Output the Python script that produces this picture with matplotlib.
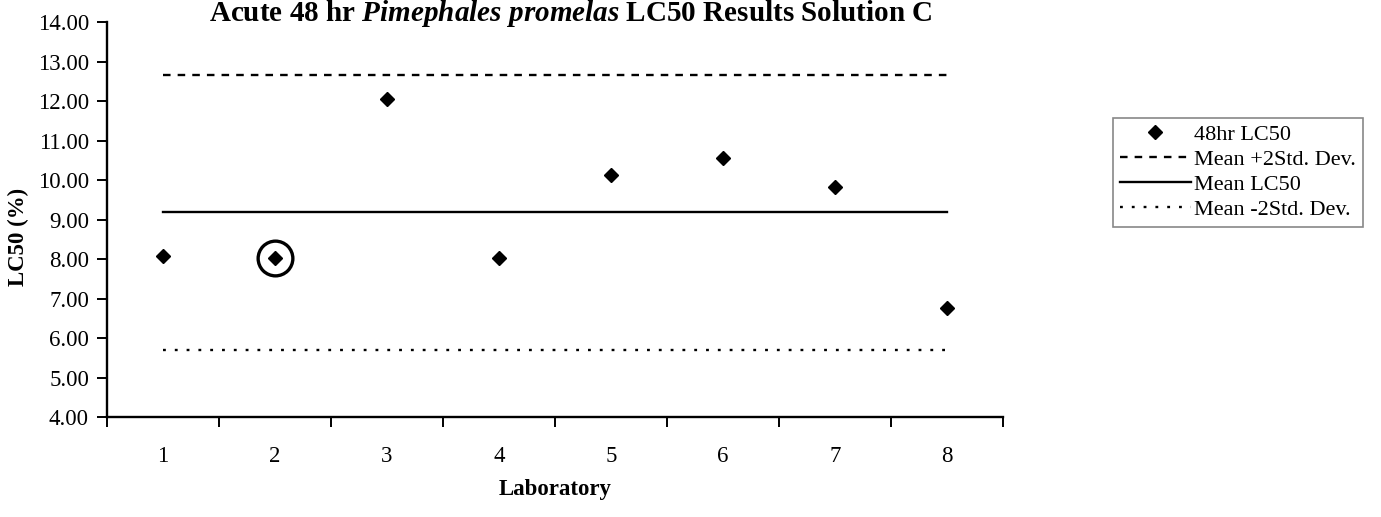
import numpy as np
import matplotlib
matplotlib.use('Agg')
import matplotlib.pyplot as plt

plt.rcParams['font.family'] = ['Liberation Serif', 'DejaVu Serif']
plt.rcParams['mathtext.fontset'] = 'custom'
plt.rcParams['mathtext.rm'] = 'Liberation Serif:bold'
plt.rcParams['mathtext.it'] = 'Liberation Serif:italic:bold'

# data
labs = [1, 2, 3, 4, 5, 6, 7, 8]
lc50 = [8.09, 8.04, 12.05, 8.04, 10.13, 10.57, 9.83, 6.76]
mean_lc50 = 9.19
mean_plus_2sd = 12.67
mean_minus_2sd = 5.69
flagged_lab = 2

y_ticks = np.arange(4, 14.01, 1.0)


def make_plot():
    fig = plt.figure(figsize=(13.81, 5.17), dpi=100)
    ax = fig.add_axes([0.0775, 0.193, 0.6488, 0.764])

    x = np.array(labs)
    ax.plot(x, lc50, linestyle='none', marker='D', markersize=6.8,
            color='black', label='48hr LC50')
    ax.plot(x, np.full(len(x), mean_plus_2sd), color='black', lw=1.7,
            linestyle=(0, (3.2, 3.0)), label='Mean +2Std. Dev.')
    ax.plot(x, np.full(len(x), mean_lc50), color='black', lw=1.7,
            linestyle='-', label='Mean LC50')
    ax.plot(x, np.full(len(x), mean_minus_2sd), color='black', lw=1.7,
            linestyle=(0, (1.2, 3.8)), label='Mean -2Std. Dev.')

    # hand drawn circle round the flagged lab
    i = labs.index(flagged_lab)
    ax.plot([labs[i]], [lc50[i]], linestyle='none', marker='o',
            markersize=25, markerfacecolor='none', markeredgecolor='black',
            markeredgewidth=2.4)

    ax.set_xlim(0.5, 8.5)
    ax.set_ylim(4, 14)
    ax.set_yticks(y_ticks)
    ax.set_yticklabels(['%.2f' % v for v in y_ticks])
    ax.set_xticks(np.arange(0.5, 8.6, 1.0))
    ax.set_xticklabels([])
    ax.set_xticks(x, minor=True)
    ax.set_xticklabels([str(v) for v in labs], minor=True)

    ax.tick_params(axis='y', which='major', direction='out', length=7,
                   width=1.4, labelsize=16.5, pad=6)
    ax.tick_params(axis='x', which='major', direction='out', length=7,
                   width=1.4)
    ax.tick_params(axis='x', which='minor', length=0, labelsize=16.5, pad=21)

    for s in ['top', 'right']:
        ax.spines[s].set_visible(False)
    for s in ['left', 'bottom']:
        ax.spines[s].set_linewidth(1.7)

    fig.text(0.4135, 1 - 21 / 517.0,
             'Acute 48 hr $\\mathit{Pimephales\\ promelas}$ LC50 Results Solution C',
             ha='center', va='baseline', fontsize=21, fontweight='bold')
    fig.text(18 / 1381.0, 1 - 237 / 517.0, 'LC50 (%)', rotation=90,
             ha='center', va='center', fontsize=16.5, fontweight='bold')
    fig.text(555 / 1381.0, 1 - 490 / 517.0, 'Laboratory',
             ha='center', va='center', fontsize=16.5, fontweight='bold')

    leg = fig.legend(loc='upper left',
                     bbox_to_anchor=(1113 / 1381.0, 1 - 118 / 517.0),
                     fontsize=16, handlelength=3.2, handletextpad=0.15,
                     labelspacing=0.2, borderpad=0.3, fancybox=False,
                     shadow=False, framealpha=1, borderaxespad=0)
    leg.get_frame().set_edgecolor('#888888')
    leg.get_frame().set_linewidth(1.2)
    return fig


fig = make_plot()
fig.savefig('out.png', dpi=100)
plt.close()
